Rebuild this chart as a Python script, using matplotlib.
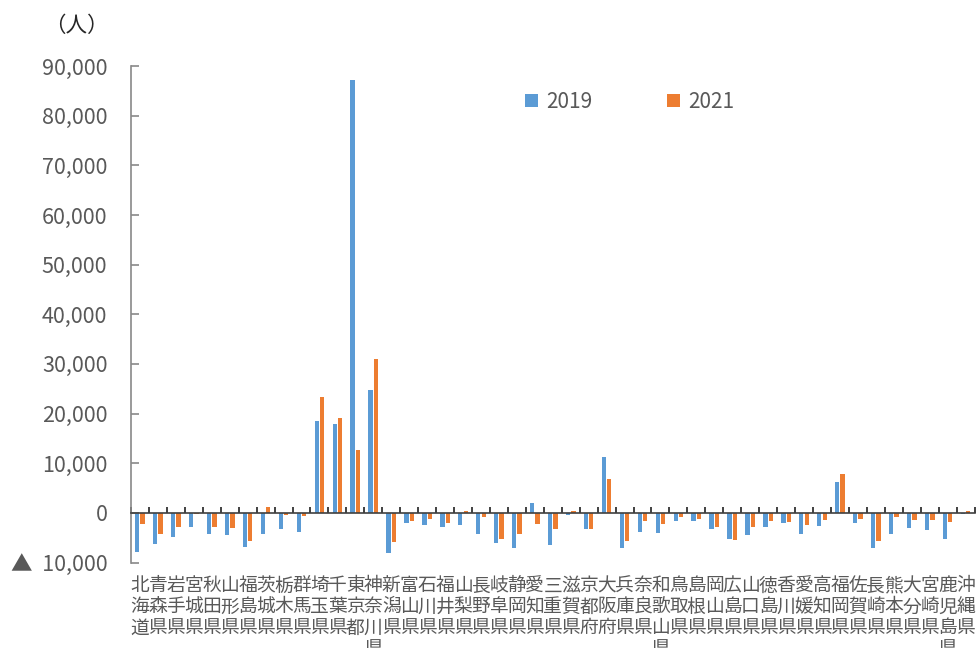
import numpy as np
import matplotlib
matplotlib.use("Agg")
import matplotlib.pyplot as plt
from matplotlib.ticker import FuncFormatter

plt.rcParams['font.family'] = ['Noto Sans CJK JP', 'DejaVu Sans']

# ---------------------------
# データ (人)
# ---------------------------
prefs = ["北海道", "青森県", "岩手県", "宮城県", "秋田県", "山形県", "福島県",
         "茨城県", "栃木県", "群馬県", "埼玉県", "千葉県", "東京都", "神奈川県",
         "新潟県", "富山県", "石川県", "福井県", "山梨県", "長野県", "岐阜県",
         "静岡県", "愛知県", "三重県", "滋賀県", "京都府", "大阪府", "兵庫県",
         "奈良県", "和歌山県", "鳥取県", "島根県", "岡山県", "広島県", "山口県",
         "徳島県", "香川県", "愛媛県", "高知県", "福岡県", "佐賀県", "長崎県",
         "熊本県", "大分県", "宮崎県", "鹿児島県", "沖縄県"]

v2019 = [-7900, -6300, -4800, -2900, -4200, -4500, -6900, -4200, -3300, -3900,
         18600, 17900, 87200, 24800, -8000, -2000, -2500, -2900, -2400, -4300,
         -6100, -7100, 2000, -6400, -500, -3200, 11200, -7100, -3900, -4000,
         -1700, -1700, -3300, -5200, -4400, -2900, -2100, -4300, -2600, 6200,
         -2100, -7100, -4300, -3100, -3400, -5300, -200]

v2021 = [-2300, -4200, -2900, -200, -2900, -3100, -5600, 1100, -500, -700,
         23300, 19200, 12700, 30900, -5800, -1700, -1200, -2100, 300, -900,
         -5200, -4200, -2200, -3300, 300, -3300, 6800, -5700, -1700, -2200,
         -900, -1200, -2900, -5400, -2800, -1700, -1800, -2500, -1500, 7800,
         -1200, -5700, -800, -1500, -1500, -1800, 400]

yticks = list(range(-10000, 90001, 10000))

# ---------------------------
# 描画
# ---------------------------
fig = plt.figure(figsize=(9.76, 6.48), dpi=100)
ax = fig.add_axes([0.1342, 0.1319, 0.8643, 0.7662])

x = np.arange(len(prefs))
w = 0.24
ax.bar(x - 0.15, v2019, w, color="#5B9BD5", label="2019")
ax.bar(x + 0.15, v2021, w, color="#ED7D31", label="2021")

ax.set_xlim(-0.5, len(prefs) - 0.5)
ax.set_ylim(-10000, 90000)

# 軸の体裁
for s in ["top", "right"]:
    ax.spines[s].set_visible(False)
ax.spines["left"].set_color("#898989")
ax.spines["left"].set_linewidth(1.2)
ax.spines["bottom"].set_position(("data", 0))
ax.spines["bottom"].set_color("#404040")
ax.spines["bottom"].set_linewidth(1.2)

ax.set_yticks(yticks)
ax.yaxis.set_major_formatter(FuncFormatter(
    lambda v, p: "▲  {:,}".format(int(-v)) if v < 0 else "{:,}".format(int(v))))
ax.tick_params(axis="y", direction="in", length=6, width=1.2, color="#898989",
               labelsize=15.5, labelcolor="#595959", pad=17)

ax.set_xticks(np.arange(-0.5, len(prefs), 1.0))
ax.set_xticklabels([])
ax.tick_params(axis="x", direction="in", length=4.3, width=1.2, color="#202020")

# 都道府県名（縦書き）
for i, name in enumerate(prefs):
    ax.text(i, -0.026, "\n".join(name), transform=ax.get_xaxis_transform(),
            ha="center", va="top", fontsize=13.5, color="#595959",
            linespacing=1.0)

fig.text(0.045, 0.96, "（人）", fontsize=15.5, color="#262626",
         ha="left", va="center")

ax.legend(loc="center", bbox_to_anchor=(0.645, 0.8426),
          bbox_transform=fig.transFigure, ncol=2, frameon=False,
          fontsize=15, labelcolor="#595959", handlelength=0.63,
          handleheight=0.63, handletextpad=0.38, columnspacing=3.6)

fig.savefig("out.png", dpi=100)
